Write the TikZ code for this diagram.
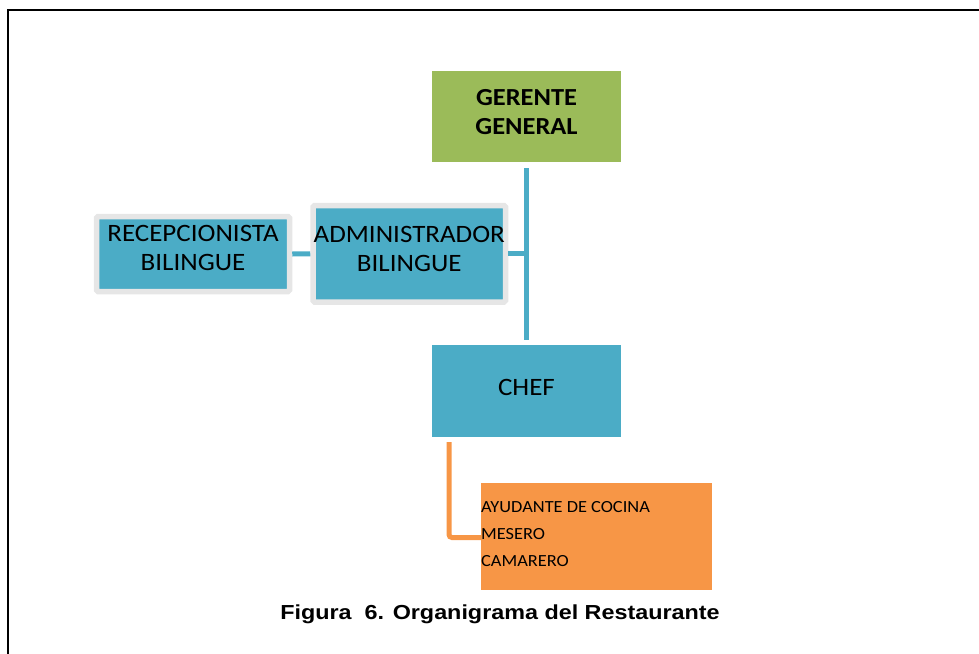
\documentclass[tikz,border=0pt]{standalone}
\usepackage{fontspec}
\setmainfont[FakeStretch=1.08]{Carlito}
\newfontfamily\arialfont[FakeStretch=1.15]{Liberation Sans}
\usepackage{tikz}
\usetikzlibrary{positioning}

\definecolor{verde}{HTML}{9BBB59}
\definecolor{azul}{HTML}{4BACC6}
\definecolor{naranja}{HTML}{F79646}
\definecolor{gris}{HTML}{E6E6E6}

\begin{document}
\begin{tikzpicture}[
			x = 1pt,
			y = -1pt,
			line cap = butt]

			\tikzstyle{caja}=[
			rectangle,
			inner sep = 0pt,
			outer sep = 0pt]

			\tikzstyle{cajagris}=[
			caja,
			fill = azul,
			draw = gris,
			line width = 5.5pt,
			outer sep = 2.75pt,
			rounded corners = 1.5pt]

			\tikzstyle{texto}=[
			align = center,
			inner sep = 0pt,
			font = \fontsize{25}{29}\selectfont]

			\tikzstyle{linea}=[
			draw = azul,
			line width = 5pt]

			\useasboundingbox (0,0) rectangle (979,653);
			\draw[line width = 2.5pt] (8,670) -- (8,10) -- (990,10);

			\node[caja, fill = verde, minimum width = 189, minimum height = 91] (gerente) at (526.5,116.5) {};
			\node[caja, fill = azul, minimum width = 189, minimum height = 92] (chef) at (526.5,391) {};
			\node[cajagris, minimum width = 192.5, minimum height = 96.5] (admin) at (409.25,253.75) {};
			\node[cajagris, minimum width = 193, minimum height = 75] (recep) at (193,254) {};
			\node[caja, fill = naranja, minimum width = 231, minimum height = 107] (personal) at (596.5,536.5) {};

			\node[texto, font = \fontsize{24.5}{29}\selectfont\bfseries] at ([yshift=4pt]gerente.center) {GERENTE\\GENERAL};
			\node[texto] at ([yshift=4pt]chef.center) {CHEF};
			\node[texto] at ([yshift=5pt]admin.center) {ADMINISTRADOR\\BILINGUE};
			\node[texto] at ([yshift=6pt]recep.center) {RECEPCIONISTA\\BILINGUE};
			\node[anchor = base west, inner sep = 0pt, align = left, font = \fontsize{17}{27}\selectfont] (lista) at (481,566) {AYUDANTE DE COCINA\\MESERO\\CAMARERO};

			% conectores
			\coordinate (tronco1) at ([yshift=-6pt]gerente.south);
			\coordinate (tronco2) at ([yshift=5pt]chef.north);
			\draw[linea] (tronco1) -- (tronco2);
			\draw[linea] (admin.east) -- (admin.east -| tronco1);
			\draw[linea] (recep.east) -- (admin.west);
			\coordinate (rama) at ([xshift=17pt,yshift=-5pt]chef.south west);
			\draw[draw = naranja, line width = 5pt, rounded corners = 3pt] (rama) |- ([yshift=-1pt]personal.west);

			\node[anchor = base, inner sep = 0pt, font = \arialfont\bfseries\fontsize{20.3}{24}\selectfont] (titulo) at (500,619) {Figura~~6. Organigrama del Restaurante};
		\end{tikzpicture}
\end{document}
